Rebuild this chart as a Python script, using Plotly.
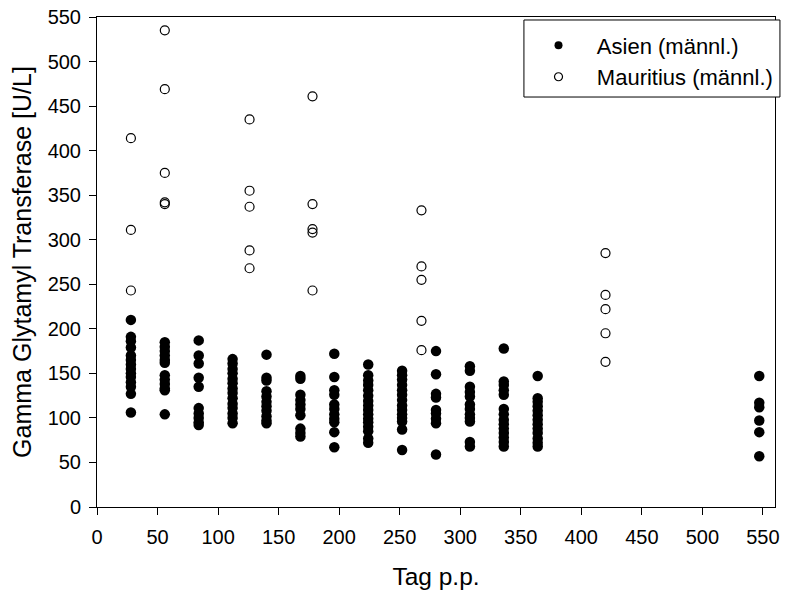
import plotly.graph_objects as go

# Asien (männl.) — filled circles
asien_days = [28, 56, 84, 112, 140, 168, 196, 224, 252, 280, 308, 336, 364, 547]
asien_values = [
    [210, 191, 186, 179, 170, 165, 160, 155, 150, 146, 140, 135, 127, 106],
    [185, 180, 175, 170, 165, 162, 148, 143, 138, 133, 131, 104],
    [187, 170, 161, 145, 135, 111, 105, 100, 95, 92],
    [166, 161, 155, 150, 144, 139, 133, 128, 122, 116, 111, 105, 100, 94],
    [171, 145, 142, 130, 124, 118, 113, 108, 102, 97, 94],
    [147, 144, 126, 120, 115, 110, 103, 88, 83, 79],
    [172, 146, 131, 126, 115, 110, 104, 99, 95, 84, 67],
    [160, 148, 142, 137, 131, 125, 119, 114, 109, 104, 99, 95, 90, 85, 77, 72],
    [153, 148, 143, 137, 131, 126, 120, 114, 109, 104, 100, 96, 87, 64],
    [175, 149, 127, 123, 109, 105, 99, 94, 59],
    [158, 153, 135, 129, 124, 115, 110, 104, 100, 96, 73, 68],
    [178, 141, 137, 131, 126, 110, 104, 98, 93, 88, 83, 78, 73, 68],
    [147, 122, 118, 113, 108, 103, 98, 93, 88, 83, 77, 72, 68],
    [147, 117, 112, 97, 84, 57],
]

# Mauritius (männl.) — open circles
mauritius_days = [28, 56, 126, 178, 268, 420]
mauritius_values = [
    [414, 311, 243],
    [535, 469, 375, 342, 340],
    [435, 355, 337, 288, 268],
    [461, 340, 312, 308, 243],
    [333, 270, 255, 209, 176],
    [285, 238, 222, 195, 163],
]

x_ticks = list(range(0, 551, 50))
y_ticks = list(range(0, 551, 50))

FONT = "Arial, Liberation Sans, sans-serif"

ax, ay = [], []
for d, vals in zip(asien_days, asien_values):
    ax += [d] * len(vals)
    ay += vals
mx, my = [], []
for d, vals in zip(mauritius_days, mauritius_values):
    mx += [d] * len(vals)
    my += vals

fig = go.Figure()
fig.add_trace(go.Scatter(
    x=ax, y=ay, mode="markers", name="Asien (männl.)", showlegend=False,
    marker=dict(symbol="circle", size=10.5, color="black", line=dict(width=0)),
))
fig.add_trace(go.Scatter(
    x=mx, y=my, mode="markers", name="Mauritius (männl.)", showlegend=False,
    marker=dict(symbol="circle-open", size=9, color="black", line=dict(width=1.2, color="black")),
))
# legend entries
fig.add_trace(go.Scatter(
    x=[None], y=[None], mode="markers", name="\u00a0\u00a0\u00a0Asien (männl.)",
    marker=dict(symbol="circle", size=8, color="black"),
))
fig.add_trace(go.Scatter(
    x=[None], y=[None], mode="markers", name="\u00a0\u00a0\u00a0Mauritius (männl.)",
    marker=dict(symbol="circle-open", size=8, color="black", line=dict(width=1.2, color="black")),
))

# legend box
fig.add_shape(type="rect", xref="paper", yref="paper",
              x0=0.6297, x1=1.0073, y0=0.8367, y1=0.9939,
              line=dict(color="black", width=1), fillcolor="white", layer="above")

axis_common = dict(
    showgrid=False, zeroline=False, showline=True, mirror=True,
    linecolor="black", linewidth=1, ticks="outside", ticklen=7,
    tickcolor="black", tickwidth=1,
    tickfont=dict(family=FONT, size=20, color="black"),
)

fig.update_layout(
    width=786, height=594,
    margin=dict(l=97, r=6, t=17, b=87),
    paper_bgcolor="white", plot_bgcolor="white",
    showlegend=True,
    legend=dict(
        x=0.6512, y=0.985, xanchor="left", yanchor="top",
        bgcolor="rgba(0,0,0,0)", borderwidth=0,
        font=dict(family=FONT, size=22, color="black"),
        tracegroupgap=0,
    ),
    xaxis=dict(range=[0, 560], tickvals=x_ticks, ticklabelstandoff=5,
               title=dict(text="Tag p.p.", font=dict(family=FONT, size=24.5, color="black"), standoff=20),
               **axis_common),
    yaxis=dict(range=[0, 550], tickvals=y_ticks, ticklabelstandoff=4,
               title=dict(text="Gamma Glytamyl Transferase [U/L]", font=dict(family=FONT, size=25, color="black"), standoff=8),
               **axis_common),
)

fig.write_html("out.html")
